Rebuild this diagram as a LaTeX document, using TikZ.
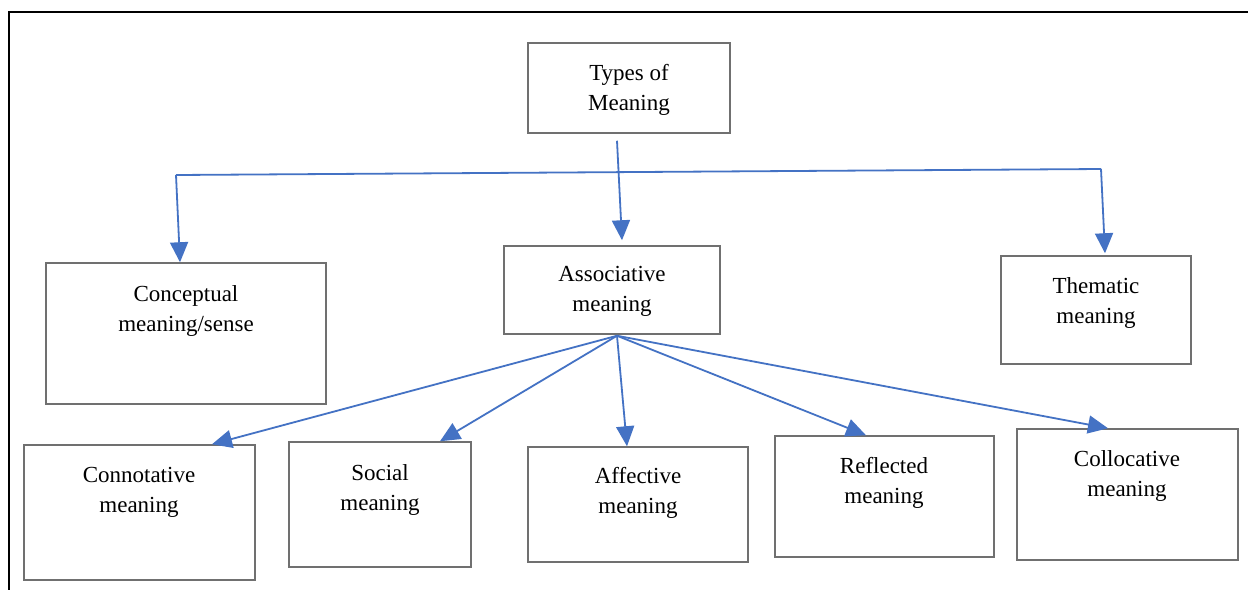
\documentclass[tikz,border=0pt]{standalone}
\usepackage{fontspec}
\setmainfont{Liberation Serif}
\usetikzlibrary{arrows.meta}
\definecolor{lineblue}{HTML}{4472C4}
\definecolor{boxgray}{HTML}{707070}
\begin{document}
\begin{tikzpicture}[x=1pt,y=-1pt,
  box/.style={draw=boxgray, line width=1.5pt, inner sep=0pt, fill=white},
  txt/.style={align=center, inner sep=0pt, font=\fontsize{23}{30}\selectfont},
  conn/.style={draw=lineblue, line width=1.8pt},
  arr/.style={conn, -{Triangle[length=20pt,width=18pt]}},
  frame/.style={draw=black, line width=2pt}]
\useasboundingbox (0,0) rectangle (1248,590);
\fill[white] (0,0) rectangle (1248,590);
% frame
\coordinate (f0) at (9,12);
\coordinate (f1) at (1248,12);
\coordinate (f2) at (9,590);
\draw[frame] (f1) -- (f0) -- (f2);
% boxes
\node[box, minimum width=202pt, minimum height=90pt] (types) at (629,88) {};
\node[box, minimum width=280pt, minimum height=141pt] (concept) at (186,333.5) {};
\node[box, minimum width=216pt, minimum height=88pt] (assoc) at (612,290) {};
\node[box, minimum width=190pt, minimum height=108pt] (thematic) at (1096,310) {};
\node[box, minimum width=231pt, minimum height=135pt] (connot) at (139.5,512.5) {};
\node[box, minimum width=182pt, minimum height=125pt] (social) at (380,504.5) {};
\node[box, minimum width=220pt, minimum height=115pt] (affect) at (638,504.5) {};
\node[box, minimum width=219pt, minimum height=121pt] (reflect) at (884.5,496.5) {};
\node[box, minimum width=221pt, minimum height=131pt] (colloc) at (1127.5,494.5) {};
% texts
\node[txt] (types-t) at (629,90) {Types of\\Meaning};
\node[txt] (concept-t) at (186,311) {Conceptual\\meaning/sense};
\node[txt] (assoc-t) at (612,291) {Associative\\meaning};
\node[txt] (thematic-t) at (1096,303) {Thematic\\meaning};
\node[txt] (connot-t) at (139,492) {Connotative\\meaning};
\node[txt] (social-t) at (380,490) {Social\\meaning};
\node[txt] (affect-t) at (638,493) {Affective\\meaning};
\node[txt] (reflect-t) at (884,483) {Reflected\\meaning};
\node[txt] (colloc-t) at (1127,476) {Collocative\\meaning};
% top connectors
\coordinate (hl) at (176,175);
\coordinate (hr) at (1101,169);
\draw[conn] (hl) -- (hr);
\draw[arr] ([xshift=-12pt,yshift=-7pt]types.south) -- ([xshift=10pt,yshift=5pt]assoc.north);
\draw[arr] (hl) -- ([xshift=-6pt]concept.north);
\draw[arr] (hr) -- ([xshift=9pt,yshift=2pt]thematic.north);
% fan
\coordinate (fan) at ([xshift=5pt,yshift=-1pt]assoc.south);
\draw[arr] (fan) -- ([xshift=72.5pt]connot.north);
\draw[arr] (fan) -- ([xshift=60pt]social.north);
\draw[arr] (fan) -- ([xshift=-11pt]affect.north);
\draw[arr] (fan) -- ([xshift=-18.5pt]reflect.north);
\draw[arr] (fan) -- ([xshift=-19.5pt]colloc.north);
\end{tikzpicture}
\end{document}
